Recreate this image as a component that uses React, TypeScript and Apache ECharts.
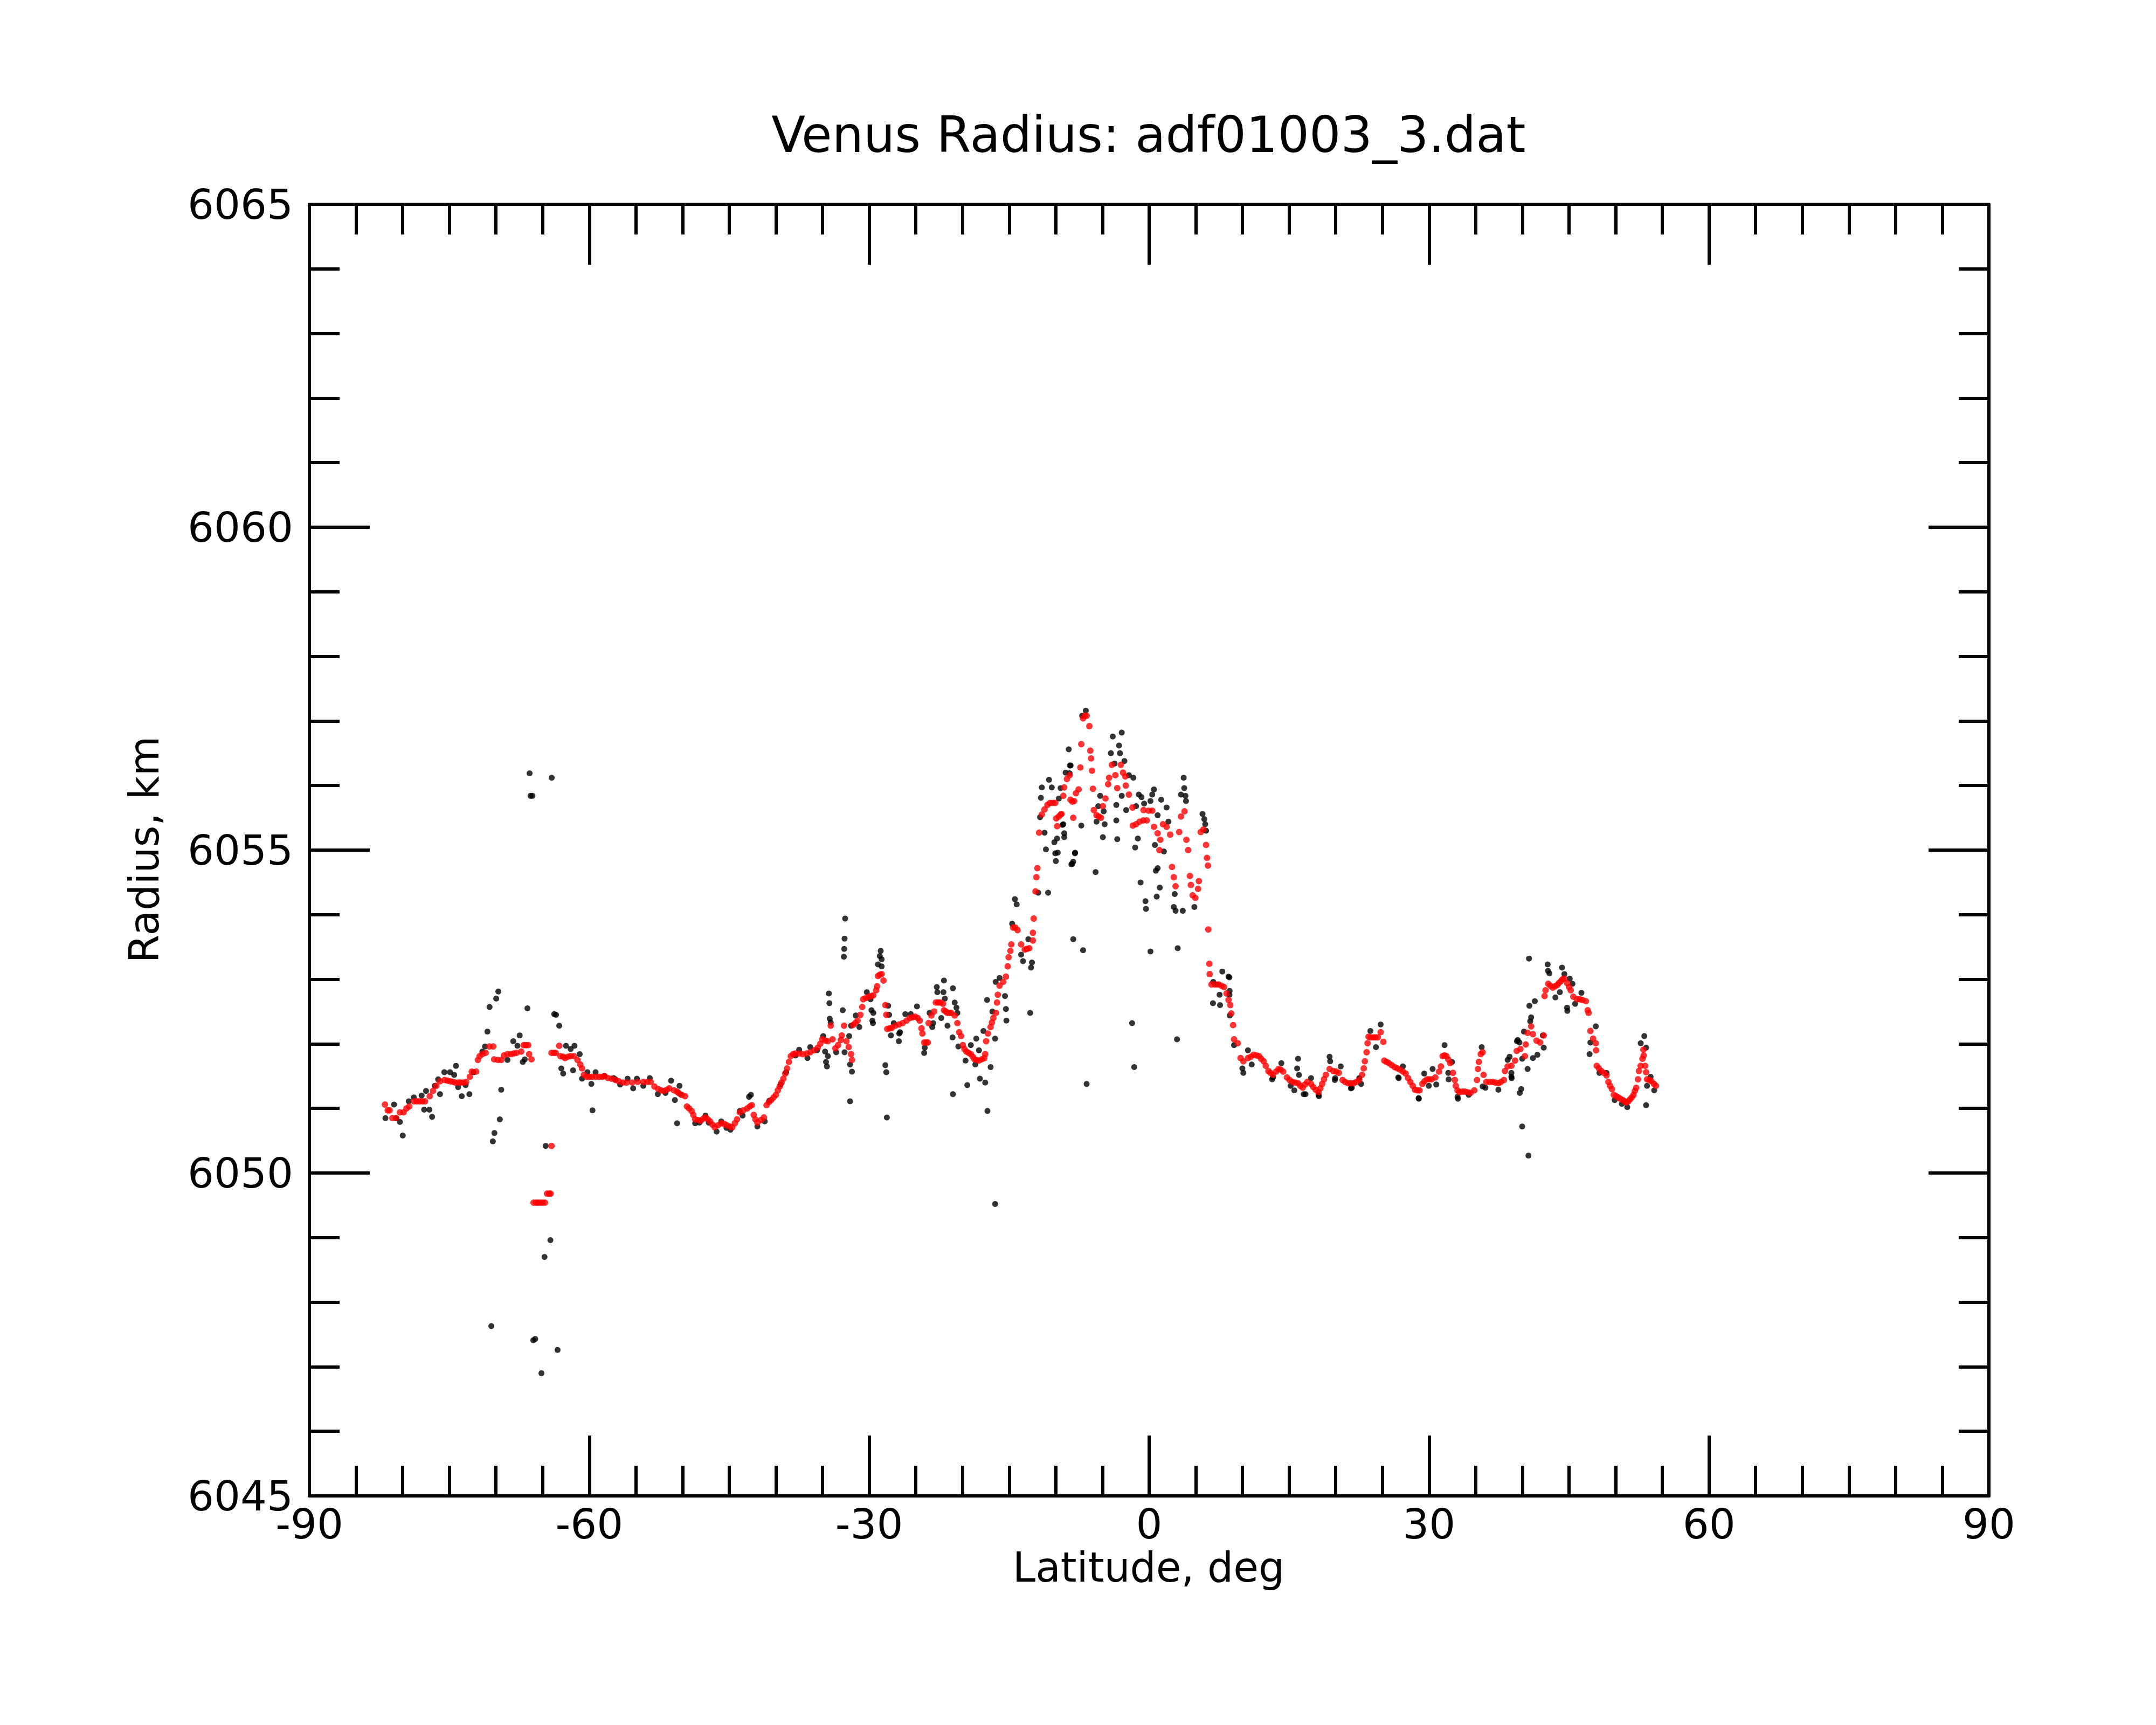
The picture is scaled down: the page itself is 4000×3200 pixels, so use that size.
import React, { useEffect, useRef } from "react";
import * as echarts from "echarts";

const titleText = "Venus Radius: adf01003_3.dat";
const xName = "Latitude, deg";
const yName = "Radius, km";
const xMin = -90, xMax = 90, xStep = 30;
const yMin = 6045, yMax = 6065, yStep = 5;

// smoothed radius (red)
const redPoints: [number, number][] = [
  [-81.9,6051.06],[-81.6,6050.97],[-81.4,6050.97],[-81.1,6050.85],[-80.7,6050.85],[-80.3,6050.94],[-79.9,6050.94],[-79.6,6051.0],[-79.3,6051.03],[-78.8,6051.11],[-78.5,6051.11],[-78.2,6051.11],[-77.9,6051.11],[-77.6,6051.11],[-77.1,6051.19],[-76.75,6051.27],[-76.4,6051.35],[-76.0,6051.42],[-75.5,6051.44],[-75.2,6051.43],[-74.9,6051.42],[-74.6,6051.41],[-74.35,6051.4],[-74.0,6051.4],[-73.8,6051.4],[-73.5,6051.4],[-73.2,6051.41],[-72.8,6051.49],[-72.6,6051.57],[-72.13,6051.57],[-71.94,6051.75],[-71.75,6051.81],[-71.46,6051.84],[-71.1,6051.86],[-70.7,6051.96],[-70.3,6051.96],[-70.2,6051.76],[-69.8,6051.75],[-69.44,6051.75],[-69.15,6051.82],[-68.77,6051.84],[-68.4,6051.84],[-68.1,6051.85],[-67.8,6051.86],[-67.3,6051.88],[-67.03,6051.98],[-66.8,6051.98],[-66.55,6051.98],[-66.45,6051.84],[-66.2,6051.76],[-65.97,6049.54],[-65.7,6049.54],[-65.5,6049.54],[-65.25,6049.54],[-65.0,6049.54],[-64.75,6049.54],[-64.53,6049.68],[-64.3,6049.68],[-64.15,6049.68],[-64.05,6050.42],[-64.05,6051.86],[-63.8,6051.86],[-63.6,6051.86],[-63.22,6051.97],[-63.1,6051.81],[-62.8,6051.8],[-62.6,6051.78],[-62.3,6051.8],[-62.0,6051.81],[-61.65,6051.81],[-61.26,6051.75],[-60.97,6051.68],[-60.78,6051.62],[-60.58,6051.52],[-60.3,6051.49],[-60.0,6051.49],[-59.7,6051.49],[-59.3,6051.49],[-58.95,6051.49],[-58.6,6051.49],[-58.37,6051.5],[-58.0,6051.47],[-57.6,6051.46],[-57.2,6051.44],[-56.83,6051.42],
  [-56.4,6051.40],[-56.0,6051.40],[-55.4,6051.40],[-54.8,6051.41],[-54.21,6051.41],[-53.8,6051.41],[-53.42,6051.41],[-53.02,6051.34],[-52.62,6051.30],[-52.3,6051.28],[-52.02,6051.27],[-51.7,6051.29],[-51.43,6051.31],[-50.93,6051.28],[-50.6,6051.26],[-50.43,6051.24],[-50.1,6051.21],[-49.74,6051.19],[-49.54,6051.03],[-49.3,6051.0],[-49.04,6050.96],[-48.85,6050.9],[-48.65,6050.83],[-48.35,6050.82],[-48.05,6050.81],[-47.8,6050.84],[-47.55,6050.86],[-47.3,6050.83],[-47.06,6050.8],[-46.8,6050.75],[-46.56,6050.71],[-46.2,6050.74],[-45.86,6050.77],[-45.55,6050.76],[-45.27,6050.74],[-44.97,6050.72],[-44.67,6050.71],[-44.4,6050.77],[-44.17,6050.83],[-43.87,6050.94],[-43.5,6050.97],[-43.08,6051.0],[-42.8,6051.03],[-42.58,6051.05],[-42.38,6050.9],[-42.2,6050.83],[-41.99,6050.78],[-41.6,6050.82],[-41.29,6050.86],[-41.0,6051.05],[-40.75,6051.1],[-40.5,6051.13],[-40.25,6051.17],[-40.0,6051.21],[-39.8,6051.28],[-39.6,6051.34],[-39.4,6051.4],[-39.2,6051.46],[-39.0,6051.54],[-38.8,6051.62],[-38.6,6051.72],[-38.41,6051.81],[-38.15,6051.84],[-37.91,6051.85],[-37.5,6051.85],[-37.12,6051.84],[-36.7,6051.85],[-36.32,6051.87],[-35.9,6051.9],[-35.52,6051.94],[-35.25,6052.0],[-35.03,6052.07],[-34.7,6052.05],[-34.43,6052.04],[-34.13,6052.28],[-33.93,6052.07],[-33.63,6051.93],[-33.34,6051.98],[-33.04,6052.06],[-32.94,6052.13],[-32.7,6052.28],[-32.44,6052.04],[-32.2,6051.95],[-31.95,6051.84],[-31.85,6051.75],[-31.75,6052.29],[-31.5,6052.32],[-31.25,6052.36],[-30.95,6052.45],[-30.75,6052.57],[-30.65,6052.69],[-30.35,6052.71],[-30.06,6052.73],[-29.8,6052.74],[-29.56,6052.75],[-29.26,6052.83],[-29.16,6052.89],[-29.06,6053.05],[-28.87,6053.07],[-28.67,6053.08],[-28.47,6052.98],[-28.27,6052.6],[-28.17,6052.45],[-28.07,6052.23],[-27.8,6052.24],[-27.57,6052.25],[-27.2,6052.28],
  [-26.8,6052.3],[-26.42,6052.32],[-26.0,6052.36],[-25.65,6052.4],[-25.35,6052.41],[-25.07,6052.42],[-24.8,6052.4],[-24.59,6052.36],[-24.4,6052.24],[-24.3,6052.16],[-24.11,6052.02],[-23.9,6052.02],[-23.73,6052.02],[-23.63,6052.32],[-23.34,6052.44],[-23.05,6052.5],[-22.86,6052.64],[-22.6,6052.64],[-22.38,6052.64],[-22.09,6052.62],[-21.99,6052.52],[-21.8,6052.5],[-21.61,6052.48],[-21.4,6052.48],[-21.22,6052.48],[-20.84,6052.44],[-20.55,6052.32],[-20.36,6052.18],[-20.16,6052.12],[-19.97,6051.98],[-19.8,6051.92],[-19.59,6051.88],[-19.35,6051.86],[-19.11,6051.84],[-18.9,6051.8],[-18.72,6051.76],[-18.5,6051.75],[-18.24,6051.74],[-17.95,6051.76],[-17.66,6051.78],[-17.57,6051.84],[-17.47,6052.04],[-17.28,6052.16],[-16.99,6052.26],[-16.85,6052.33],[-16.7,6052.4],[-16.41,6052.48],[-16.31,6052.64],[-16.22,6052.76],[-16.03,6052.9],[-15.64,6052.96],[-15.35,6053.04],[-15.16,6053.2],[-15.06,6053.34],[-14.87,6053.44],[-14.77,6053.54],[-14.58,6053.8],[-14.35,6053.8],[-14.1,6053.76],[-13.72,6053.54],[-13.33,6053.46],[-13.1,6053.47],[-12.85,6053.48],[-12.46,6053.6],[-12.46,6053.72],[-12.37,6053.94],[-12.18,6054.36],[-12.08,6054.58],[-11.98,6054.72],[-11.79,6055.27],[-11.5,6055.55],[-11.21,6055.63],[-10.9,6055.7],[-10.63,6055.73],[-10.35,6055.73],[-10.06,6055.73],[-9.96,6055.49],[-9.86,6055.37],[-9.68,6055.52],[-9.48,6055.55],[-9.39,6055.56],[-9.2,6055.84],[-9.1,6055.97],[-8.81,6056.1],[-8.52,6056.16],[-8.43,6055.78],[-8.23,6055.75],[-8.14,6055.5],[-8.04,6055.76],[-7.85,6055.88],[-7.56,6055.94],[-7.37,6056.28],[-7.27,6056.64],[-7.08,6057.04],[-6.9,6057.08],[-6.7,6057.08],[-6.41,6056.92],[-6.31,6056.54],[-6.22,6056.42],[-6.12,6056.23],[-6.02,6055.95],[-5.93,6055.62],[-5.64,6055.54],[-5.4,6055.52],[-5.16,6055.5],[-4.96,6055.68],[-4.68,6055.8],[-4.39,6056.02],[-4.29,6056.12],[-4.0,6056.32],[-3.62,6056.16],[-3.42,6055.96],[-3.04,6056.32],[-2.8,6056.2],[-2.56,6056.14],[-2.5,6056.0],[-2.17,6055.86],[-1.79,6055.66],[-1.75,6055.38],[-1.4,6055.4],[-1.02,6055.44],[-0.63,6055.46],[-0.25,6055.46],[-0.6,6055.62],[-0.06,6055.61],[0.33,6055.61],[0.52,6055.36],[0.91,6055.26],[1.2,6055.16],[1.1,6055.0],[1.48,6055.4],[1.87,6055.36],[2.25,6055.24],[2.45,6054.74],[2.64,6054.58],[2.83,6054.44],[3.22,6055.28],[3.41,6055.52],[3.79,6055.6],[3.99,6055.16],[4.18,6055.0],[4.37,6054.6],[4.47,6054.46],[4.66,6054.3],[4.95,6054.26],[5.24,6054.4],[5.33,6054.52],[5.53,6055.28],[5.82,6055.32],[6.1,6055.08],[6.2,6054.88],[6.3,6054.76],[6.34,6053.77],[6.45,6053.24],[6.49,6053.08],[6.68,6052.92],[7.05,6052.92],[7.45,6052.92],[7.75,6052.9],[8.03,6052.88],[8.3,6052.78],[8.51,6052.68],
  [8.7,6052.6],[8.8,6052.47],[9.0,6052.29],[9.1,6052.07],[9.5,6052.01],[9.8,6051.78],[10.1,6051.73],[10.59,6051.78],[10.9,6051.8],[11.19,6051.83],[11.5,6051.82],[11.78,6051.81],[12.0,6051.77],[12.28,6051.73],[12.5,6051.66],[12.78,6051.58],[13.0,6051.55],[13.27,6051.52],[13.6,6051.57],[13.87,6051.61],[14.1,6051.6],[14.37,6051.57],[14.77,6051.48],[15.05,6051.44],[15.36,6051.41],[15.65,6051.4],[15.96,6051.39],[16.2,6051.35],[16.46,6051.32],[16.7,6051.37],[16.95,6051.41],[17.35,6051.38],[17.6,6051.33],[17.85,6051.29],[18.15,6051.25],[18.35,6051.31],[18.54,6051.38],[18.74,6051.45],[18.94,6051.52],[19.34,6051.61],[19.74,6051.58],[20.05,6051.57],[20.33,6051.55],[20.73,6051.44],[21.0,6051.41],[21.33,6051.39],[21.6,6051.39],[21.92,6051.39],[22.2,6051.41],[22.52,6051.44],[22.82,6051.52],[23.0,6051.62],[23.12,6051.73],[23.31,6051.87],[23.41,6052.01],[23.51,6052.11],[23.75,6052.1],[24.01,6052.1],[24.25,6052.1],[24.51,6052.1],[24.81,6052.18],[25.1,6052.03],[25.2,6051.74],[25.45,6051.72],[25.7,6051.7],[26.0,6051.67],[26.3,6051.64],[26.6,6051.62],[26.9,6051.6],[27.2,6051.57],[27.49,6051.54],[27.75,6051.47],[27.99,6051.41],[28.25,6051.35],[28.48,6051.29],[28.75,6051.28],[28.98,6051.28],[29.28,6051.38],[29.5,6051.42],[29.78,6051.45],[30.0,6051.45],[30.27,6051.45],[30.67,6051.48],[31.07,6051.57],[31.27,6051.65],[31.46,6051.81],[31.65,6051.82],[31.86,6051.81],[32.06,6051.76],[32.26,6051.7],[32.56,6051.55],[32.76,6051.44],[32.86,6051.35],[33.05,6051.28],[33.25,6051.25],[33.55,6051.26],[33.85,6051.26],[34.15,6051.25],[34.45,6051.24],[34.85,6051.28],[35.14,6051.44],[35.24,6051.61],[35.34,6051.72],[35.54,6051.84],[35.74,6051.87],[35.84,6051.52],[36.14,6051.41],[36.5,6051.41],[36.83,6051.41],[37.1,6051.4],[37.43,6051.39],[37.7,6051.41],[38.03,6051.44],[38.13,6051.58],[38.42,6051.65],[38.82,6051.66],[39.21,6051.74],[39.4,6051.89],[39.79,6051.92],[40.27,6051.81],[40.36,6051.99],[40.56,6052.17],[40.94,6052.27],[41.13,6052.15],[41.52,6052.05],[41.9,6052.02],[42.29,6052.13],[42.38,6052.74],[42.48,6052.83],[42.77,6052.93],[43.0,6052.9],[43.25,6052.87],[43.5,6052.89],[43.73,6052.91],[43.9,6052.94],[44.12,6052.97],[44.3,6053.0],[44.5,6053.01],[44.79,6052.94],[45.0,6052.88],[45.18,6052.83],[45.46,6052.73],[45.85,6052.69],[46.15,6052.69],[46.43,6052.68],[46.81,6052.66],[47.0,6052.52],[47.1,6052.48],[47.29,6052.2],[47.58,6052.08],[47.87,6052.01],[47.9,6051.9],[47.97,6051.66],[48.2,6051.62],[48.45,6051.58],[48.75,6051.55],[49.02,6051.51],[49.22,6051.41],[49.4,6051.35],[49.6,6051.3],[49.8,6051.21],[50.05,6051.19],[50.28,6051.17],[50.5,6051.15],[50.76,6051.13],[50.95,6051.11],[51.14,6051.09],[51.35,6051.11],[51.53,6051.14],[51.72,6051.17],[51.91,6051.21],[52.05,6051.27],[52.2,6051.32],[52.39,6051.45],[52.49,6051.58],[52.68,6051.66],[52.87,6051.77],[52.97,6051.91],[53.0,6051.82],[53.16,6051.66],[53.26,6051.56],[53.36,6051.45],[53.6,6051.44],[53.84,6051.42],[54.1,6051.38],[54.32,6051.35]
];

// raw radius (black)
const blackPoints: [number, number][] = [
  [-66.4,6056.19],[-66.3,6055.84],[-66.1,6055.84],[-64.03,6056.12],[-81.85,6050.85],[-80.93,6051.06],[-79.99,6050.58],[-80.3,6050.79],[-80.7,6050.85],[-79.35,6051.11],[-78.8,6051.17],[-77.97,6051.2],[-77.7,6050.98],[-77.5,6051.27],[-77.14,6050.98],[-76.85,6050.87],[-76.56,6051.35],[-76.2,6051.45],[-76.0,6051.22],[-75.54,6051.56],[-74.93,6051.56],[-74.48,6051.52],[-74.29,6051.66],[-74.06,6051.33],[-73.67,6051.19],[-73.25,6051.36],[-72.85,6051.22],[-72.42,6051.56],[-71.46,6051.88],[-71.17,6051.96],[-70.92,6052.19],[-70.69,6052.57],[-69.98,6052.7],[-69.75,6052.81],[-69.44,6051.29],[-69.59,6050.83],[-70.17,6050.62],[-70.34,6050.49],[-70.5,6047.63],[-68.77,6051.75],[-68.15,6052.04],[-67.46,6052.13],[-67.7,6051.97],[-67.13,6051.72],[-66.92,6051.76],[-66.63,6052.55],[-64.67,6050.42],[-64.17,6048.96],[-64.8,6048.7],[-66.0,6047.41],[-65.8,6047.43],[-65.13,6046.9],[-63.4,6047.26],[-63.76,6052.46],[-63.57,6052.45],[-63.22,6052.28],[-63.0,6051.62],[-62.8,6051.54],[-62.5,6051.97],[-62.0,6051.92],[-61.74,6051.59],[-61.59,6051.97],[-61.03,6051.84],[-60.78,6051.46],[-60.2,6051.56],[-59.78,6051.38],[-59.66,6050.97],[-59.33,6051.56],[-58.37,6051.5],[-57.2,6051.45],
  [-57.39,6051.47],[-56.7,6051.37],[-55.9,6051.46],[-55.3,6051.31],[-54.9,6051.46],[-54.21,6051.35],[-53.52,6051.47],[-52.66,6051.22],[-51.83,6051.24],[-51.23,6051.43],[-50.83,6051.13],[-50.59,6050.77],[-50.33,6051.35],[-50.24,6051.22],[-48.65,6050.77],[-48.2,6050.78],[-47.55,6050.89],[-47.2,6050.78],[-46.36,6050.64],[-45.86,6050.8],[-45.3,6050.7],[-44.87,6050.67],[-43.87,6050.96],[-43.57,6050.89],[-42.88,6051.18],[-42.68,6051.21],[-41.99,6050.72],[-41.2,6050.8],[-40.7,6051.12],[-39.5,6051.37],[-38.9,6051.56],[-37.91,6051.82],[-37.51,6051.91],[-36.62,6051.78],[-36.32,6051.95],[-35.6,6051.9],[-34.93,6052.12],[-34.73,6051.88],[-34.63,6051.72],[-34.53,6051.65],[-34.43,6051.81],[-34.33,6052.78],[-34.27,6052.63],[-34.23,6052.39],[-34.13,6052.33],[-33.54,6051.87],[-32.84,6052.52],[-32.58,6053.94],[-32.64,6053.63],[-32.68,6053.47],[-32.72,6053.35],[-32.64,6051.87],[-32.15,6052.12],[-32.05,6051.11],[-32.05,6051.68],[-31.85,6051.57],[-31.95,6052.28],[-31.45,6052.44],[-31.06,6052.26],[-30.26,6052.8],[-29.86,6052.69],[-29.76,6052.52],[-29.56,6052.48],[-29.66,6052.36],[-29.6,6052.32],[-29.06,6053.23],[-28.77,6053.44],[-28.87,6053.36],[-28.67,6053.31],[-28.67,6053.2],[-28.27,6051.67],[-28.17,6051.56],[-28.11,6050.86],[-27.97,6052.59],[-27.87,6052.45],[-27.67,6052.13],[-27.37,6052.32],[-26.82,6052.04],[-26.78,6052.16],
  [-26.7,6052.18],[-26.13,6052.46],[-25.55,6052.46],[-24.88,6052.58],[-24.11,6051.86],[-24.05,6051.94],[-23.53,6052.48],[-23.24,6052.26],[-23.15,6052.32],[-22.76,6052.88],[-22.7,6052.8],[-21.99,6052.98],[-22.05,6052.8],[-21.9,6052.7],[-22.28,6052.4],[-21.61,6052.28],[-21.03,6052.86],[-20.84,6052.64],[-20.65,6052.56],[-20.55,6052.48],[-21.07,6052.1],[-21.03,6051.22],[-20.45,6051.96],[-19.68,6051.74],[-19.49,6051.36],[-19.11,6051.98],[-18.63,6051.68],[-18.53,6052.08],[-18.24,6051.9],[-18.14,6051.46],[-17.76,6052.2],[-17.57,6051.4],[-17.37,6052.68],[-17.33,6050.96],[-16.99,6051.64],[-16.8,6052.5],[-16.51,6052.08],[-16.45,6052.96],[-16.5,6049.52],[-16.03,6053.02],[-15.45,6052.74],[-15.35,6052.54],[-15.3,6052.36],[-14.68,6053.86],[-14.39,6054.24],[-14.2,6054.16],[-13.72,6053.38],[-13.52,6053.28],[-12.95,6053.62],[-12.75,6052.48],[-12.66,6053.18],[-12.56,6053.26],[-11.89,6054.34],[-10.83,6054.34],[-11.06,6055.01],[-11.21,6055.27],[-11.5,6055.97],[-11.6,6055.81],[-11.69,6055.51],[-10.73,6056.09],[-10.44,6055.97],[-10.06,6054.95],[-10.0,6054.83],[-10.16,6055.12],[-9.29,6055.39],[-9.1,6055.26],[-8.42,6056.31],[-8.52,6056.19],[-8.23,6054.79],[-7.94,6054.96],[-8.13,6053.62],
  [-6.79,6057.16],[-7.18,6057.08],[-8.62,6056.56],[-8.49,6056.31],[-8.95,6056.2],[-9.49,6055.96],[-9.68,6055.8],[-9.2,6055.4],[-9.1,6055.2],[-9.87,6055.18],[-9.8,6054.96],[-7.95,6054.95],[-8.14,6054.82],[-8.33,6054.78],[-7.27,6055.38],[-5.74,6054.66],[-7.08,6053.45],[-6.7,6051.38],[-3.9,6056.76],[-2.94,6056.82],[-3.23,6056.62],[-4.1,6056.5],[-3.13,6056.5],[-2.65,6056.38],[-3.71,6056.34],[-2.17,6056.16],[-1.69,6056.12],[-5.25,6055.84],[-5.45,6055.68],[-4.87,6055.6],[-5.64,6055.44],[-4.77,6055.4],[-4.96,6055.2],[-3.42,6055.17],[-3.52,6055.46],[-3.52,6055.7],[-2.46,6055.62],[-2.94,6055.84],[-1.11,6055.86],[-0.82,6055.82],[-1.4,6055.68],[-0.54,6055.72],[0.52,6055.94],[0.33,6055.86],[0.14,6055.76],[1.29,6055.78],[0.91,6055.54],[1.87,6055.66],[2.06,6055.44],[-1.21,6055.18],[-1.5,6055.04],[0.62,6055.08],[1.58,6054.98],[0.91,6054.72],[0.72,6054.68],[-0.92,6054.5],[1.14,6054.42],[0.81,6054.28],[-0.4,6054.21],[-0.34,6054.09],[0.14,6053.43],[-1.83,6052.32],[-1.6,6051.64],[2.99,6052.07],[3.7,6056.12],[3.76,6055.96],[3.89,6055.84],[3.95,6055.76],[3.41,6055.86],[2.64,6054.12],[2.83,6054.06],[3.6,6054.06],[2.74,6054.32],[3.06,6053.48],[4.85,6054.12],[5.72,6055.56],[5.91,6055.48],[6.01,6055.4],[6.1,6055.3],[7.84,6053.12],[8.51,6053.04],[6.87,6052.96],[7.26,6052.92],[7.55,6052.76],[7.6,6052.6],[6.84,6052.63],[8.61,6052.76],[8.65,6052.44],
  [8.6,6053.03],[8.62,6052.82],[10.59,6051.9],[10.1,6051.55],[9.99,6051.62],[9.1,6051.98],[10.99,6051.68],[14.17,6051.7],[13.27,6051.48],[13.18,6051.45],[15.96,6051.77],[15.86,6051.62],[16.06,6051.52],[15.56,6051.28],[15.16,6051.35],[16.56,6051.22],[16.76,6051.22],[17.35,6051.47],[18.15,6051.21],[18.2,6051.19],[19.34,6051.8],[19.4,6051.73],[20.53,6051.65],[19.94,6051.47],[19.9,6051.44],[21.72,6051.32],[21.62,6051.31],[22.52,6051.47],[22.72,6051.38],[23.71,6052.2],[24.81,6052.3],[24.31,6051.95],[27.19,6051.65],[26.7,6051.48],[26.75,6051.47],[29.48,6051.54],[28.88,6051.16],[28.9,6051.15],[29.97,6051.35],[30.38,6051.61],[30.77,6051.37],[31.66,6051.98],[32.46,6051.72],[32.06,6051.55],[32.1,6051.45],[33.05,6051.18],[33.1,6051.15],[34.25,6051.21],[35.64,6051.95],[35.74,6051.34],[36.04,6051.32],[37.43,6051.29],[38.42,6051.75],[38.82,6051.49],[38.85,6051.47],[39.42,6052.04],[39.72,6051.24],
  [40.71,6053.32],[42.71,6053.23],[42.75,6053.13],[42.9,6053.09],[44.25,6053.18],[44.5,6053.08],[45.08,6053.01],[44.02,6052.8],[43.54,6052.72],[44.79,6052.56],[44.82,6052.51],[45.37,6052.93],[46.33,6052.79],[45.66,6052.62],[41.33,6052.66],[40.75,6052.59],[40.94,6052.41],[40.84,6052.35],[40.17,6052.19],[39.5,6052.06],[39.69,6052.02],[42.19,6052.13],[42.29,6051.94],[41.61,6051.83],[41.13,6051.78],[39.98,6051.77],[40.56,6051.61],[38.82,6051.55],[38.63,6051.8],[39.88,6051.3],[39.98,6050.72],[40.65,6050.27],[47.87,6052.27],[47.29,6052.02],[47.2,6051.84],[48.26,6051.55],[49.02,6051.55],[49.89,6051.13],[50.66,6051.07],[51.24,6051.02],[53.07,6052.12],[52.68,6052.01],[53.26,6051.94],[53.74,6051.49],[53.36,6051.35],[54.13,6051.28],[53.26,6051.05]
];

const FONT = "DejaVu Sans";

export default function App() {
  const ref = useRef<HTMLDivElement>(null);
  useEffect(() => {
    if (!ref.current) return;
    const chart = echarts.init(ref.current, null, { renderer: "svg" });
    const axisCommon = {
      type: "value" as const,
      axisLine: { show: true, onZero: false, lineStyle: { color: "#000", width: 6 } },
      axisTick: { show: true, inside: true, length: 112, lineStyle: { color: "#000", width: 6 } },
      minorTick: { show: true, length: 56, lineStyle: { color: "#000", width: 6 } },
      splitLine: { show: false },
      minorSplitLine: { show: false },
    };
    const fmt = (v: number) => String(Math.round(v));
    chart.setOption({
      animation: false,
      backgroundColor: "#fff",
      grid: { left: 574, right: 310, top: 379, bottom: 425, containLabel: false },
      xAxis: [
        { ...axisCommon, position: "bottom", min: xMin, max: xMax, interval: xStep, minorTick: { ...axisCommon.minorTick, splitNumber: 6 },
          axisLabel: { show: true, margin: 52, verticalAlign: "middle", lineHeight: 56, color: "#000", fontSize: 77, fontFamily: FONT, formatter: fmt } },
        { ...axisCommon, position: "top", min: xMin, max: xMax, interval: xStep, minorTick: { ...axisCommon.minorTick, splitNumber: 6 },
          axisLabel: { show: false } },
      ],
      yAxis: [
        { ...axisCommon, position: "left", min: yMin, max: yMax, interval: yStep, minorTick: { ...axisCommon.minorTick, splitNumber: 5 },
          axisLabel: { show: true, margin: 30, lineHeight: 56, color: "#000", fontSize: 77, fontFamily: FONT, formatter: fmt } },
        { ...axisCommon, position: "right", min: yMin, max: yMax, interval: yStep, minorTick: { ...axisCommon.minorTick, splitNumber: 5 },
          axisLabel: { show: false } },
      ],
      graphic: [
        { type: "text", x: 2131, y: 250, style: { text: titleText, fontSize: 92, fontFamily: FONT, fill: "#000", textAlign: "center", textVerticalAlign: "middle" } },
        { type: "text", x: 2131, y: 2907, style: { text: xName, fontSize: 76, lineHeight: 56, fontFamily: FONT, fill: "#000", textAlign: "center", textVerticalAlign: "middle" } },
        { type: "text", x: 267, y: 1576, rotation: Math.PI / 2, style: { text: yName, fontSize: 76, fontFamily: FONT, fill: "#000", textAlign: "center", textVerticalAlign: "middle" } },
      ],
      series: [
        { type: "scatter", data: blackPoints, symbol: "circle", symbolSize: 11, itemStyle: { color: "#000" }, silent: true, z: 2 },
        { type: "scatter", data: redPoints, symbol: "circle", symbolSize: 12, itemStyle: { color: "#ff0000" }, silent: true, z: 3 },
      ],
    });
    return () => chart.dispose();
  }, []);
  return <div ref={ref} style={{ position: "fixed", left: 0, top: 0, width: 4000, height: 3200, background: "#fff" }} />;
}
